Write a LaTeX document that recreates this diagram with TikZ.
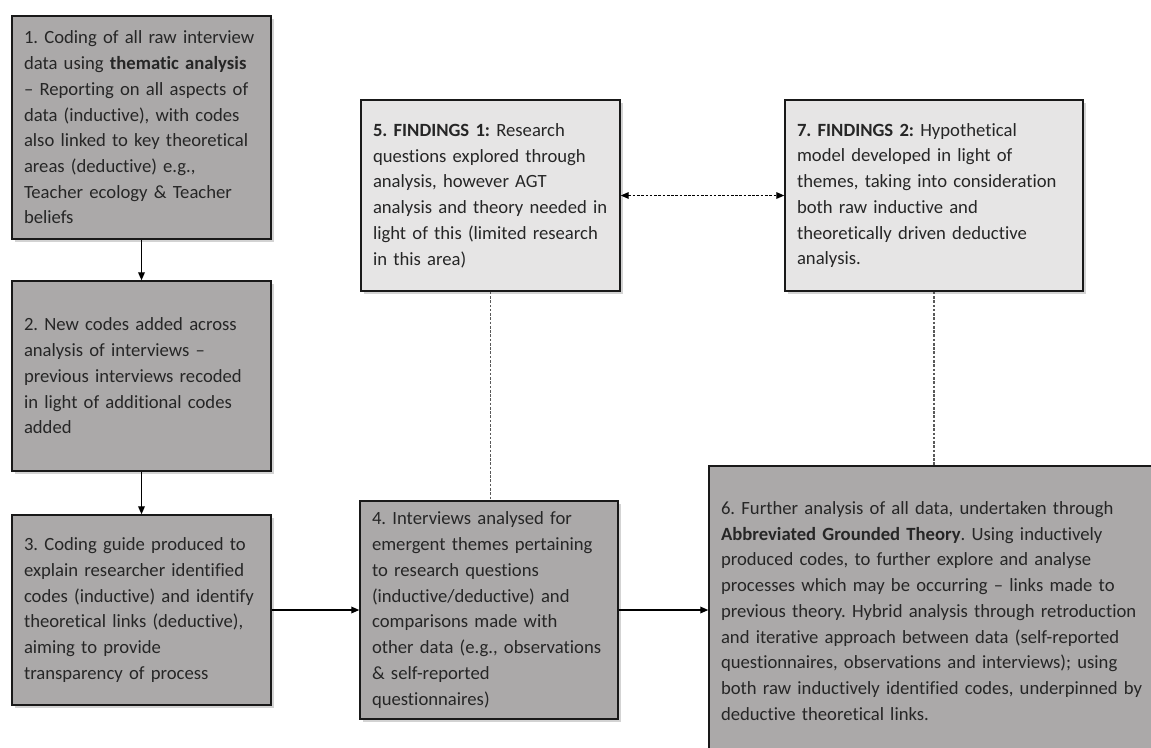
\documentclass[tikz,border=0pt]{standalone}
\usepackage{fontspec}
\setmainfont{Carlito}[Ligatures=NoCommon]
\usetikzlibrary{arrows.meta,shadows}
\definecolor{stepdark}{HTML}{ABA9A9}
\definecolor{steplight}{HTML}{E6E5E5}
\definecolor{inkgray}{HTML}{262626}
\frenchspacing
\begin{document}
\begin{tikzpicture}[x=0.75pt,y=-0.75pt,
  stagebox/.style={draw=black!90,line width=1.1pt,align=left,inner xsep=9pt,
    font=\fontsize{14}{19.3}\selectfont,text=inkgray,
    drop shadow={shadow xshift=2pt,shadow yshift=-2pt,opacity=0.35}},
  darkbox/.style={stagebox,fill=stepdark},
  lightbox/.style={stagebox,fill=steplight},
  flow/.style={-{Triangle[length=6pt,width=5pt]},line width=1pt},
  twoway/.style={{Triangle[length=6pt,width=5pt]}-{Triangle[length=6pt,width=5pt]},
    line width=0.9pt,dash pattern=on 2pt off 1.2pt},
  link/.style={gray!70!black,line width=0.9pt,dash pattern=on 2pt off 1.2pt}]
  \useasboundingbox (0,0) rectangle (1151,747);
  \node[darkbox,text width=176.25pt,minimum height=167.25pt] (code) at (141.5,127.5)
    {1. Coding of all raw interview\\ data using \textbf{thematic analysis}\\
     – Reporting on all aspects of\\ data (inductive), with codes\\
     also linked to key theoretical\\ areas (deductive) e.g.,\\
     Teacher ecology \& Teacher\\ beliefs};
  \node[darkbox,text width=176.25pt,minimum height=142.5pt] (recode) at (141.5,376)
    {2. New codes added across\\ analysis of interviews –\\
     previous interviews recoded\\ in light of additional codes\\ added};
  \node[darkbox,text width=176.25pt,minimum height=142.5pt] (guide) at (141.5,610)
    {3. Coding guide produced to\\ explain researcher identified\\
     codes (inductive) and identify\\ theoretical links (deductive),\\
     aiming to provide\\ transparency of process};
  \node[darkbox,text width=175.5pt,minimum height=163.5pt] (themes) at (489,610)
    {4. Interviews analysed for\\ emergent themes pertaining\\
     to research questions\\ (inductive/deductive) and\\
     comparisons made with\\ other data (e.g., observations\\
     \& self-reported\\ questionnaires)};
  \node[lightbox,text width=176.25pt,minimum height=143.25pt] (findone) at (490.5,195.5)
    {\textbf{5. FINDINGS 1:} Research\\ questions explored through\\
     analysis, however AGT\\ analysis and theory needed in\\
     light of this (limited research\\ in this area)};
  \node[lightbox,text width=205.5pt,minimum height=143.25pt] (findtwo) at (934,195.5)
    {\textbf{7. FINDINGS 2:} Hypothetical\\ model developed in light of\\
     themes, taking into consideration\\ both raw inductive and\\
     theoretically driven deductive\\ analysis.};
  \node[darkbox,text width=319.5pt,minimum height=217.5pt] (agt) at (934,611)
    {6. Further analysis of all data, undertaken through\\
     \textbf{Abbreviated Grounded Theory}. Using inductively\\
     produced codes, to further explore and analyse\\
     processes which may be occurring – links made to\\
     previous theory. Hybrid analysis through retroduction\\
     and iterative approach between data (self-reported\\
     questionnaires, observations and interviews); using\\
     both raw inductively identified codes, underpinned by\\
     deductive theoretical links.};
  \draw[flow] (code) -- (recode);
  \draw[flow] (recode) -- (guide);
  \draw[flow] (guide.east) -- (guide.east -| themes.west);
  \draw[flow] (themes.east) -- (themes.east -| agt.west);
  \draw[twoway] (findone) -- (findtwo);
  \draw[link] (findone.south) -- (findone.south |- themes.north);
  \draw[link] (findtwo) -- (agt);
\end{tikzpicture}
\end{document}
